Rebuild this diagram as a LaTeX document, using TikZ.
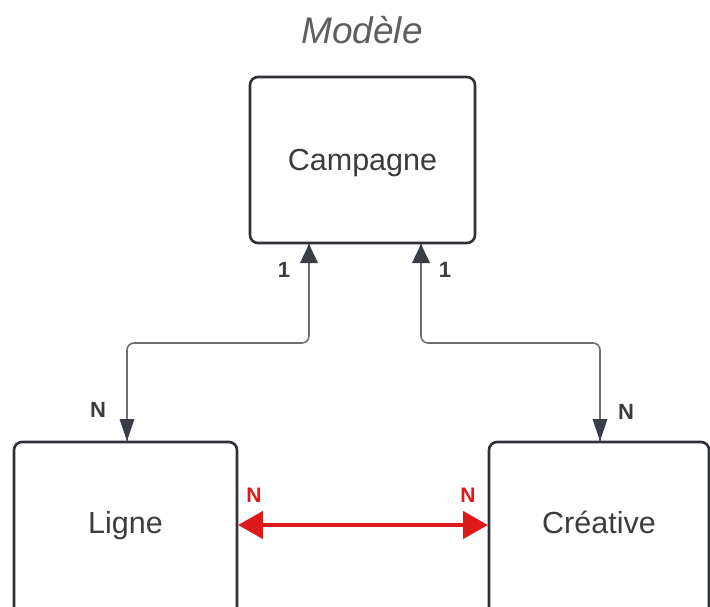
\documentclass[tikz,border=0pt]{standalone}
\usepackage{fontspec}
\setmainfont{Liberation Sans}
\usetikzlibrary{arrows.meta}
\definecolor{boxline}{HTML}{2E3138}
\definecolor{connline}{HTML}{6E6E6E}
\definecolor{headcol}{HTML}{383D47}
\definecolor{txtcol}{HTML}{3C3C3C}
\definecolor{titlecol}{HTML}{5E5E5E}
\definecolor{redcol}{HTML}{DD1A1A}
\begin{document}
\begin{tikzpicture}[x=1pt,y=-1pt,
  entity/.style={draw=boxline, line width=2.6pt, rounded corners=8pt, fill=white, inner sep=0pt, font=\fontsize{30.5}{34}\selectfont, text=txtcol},
  conn/.style={draw=connline, line width=1.6pt, rounded corners=7pt},
  card/.style={font=\bfseries\fontsize{22}{24}\selectfont, text=txtcol},
  redcard/.style={font=\bfseries\fontsize{21}{23}\selectfont, text=redcol},
  rel/.style={draw=redcol, line width=4.5pt, {Triangle[length=25pt,width=27pt]}-{Triangle[length=25pt,width=27pt]}}
]
\useasboundingbox (0,0) rectangle (710,606);
\clip (0,0) rectangle (710,606);
\node[font=\itshape\fontsize{37}{42}\selectfont, text=titlecol] (title) at (362,30) {Modèle};
% boxes
\draw[entity] (250,77) rectangle (475,243);
\node[entity, draw=none, fill=none, anchor=base] (camp) at (362.5,170) {Campagne};
\coordinate (campbl) at (309,244);
\coordinate (campbr) at (421,244);
\draw[entity] (14,442) rectangle (237,630);
\node[entity, draw=none, fill=none, anchor=base] (ligne) at (125.5,533) {Ligne};
\coordinate (lignetop) at (127,441);
\coordinate (ligneright) at (238,525);
\draw[entity] (489,442) rectangle (709,630);
\node[entity, draw=none, fill=none, anchor=base] (creat) at (599,533) {Créative};
\coordinate (creattop) at (600,441);
\coordinate (creatleft) at (488,525);
% connectors
\coordinate (lk1) at (309,343);
\coordinate (lk2) at (127,343);
\coordinate (rk1) at (421,343);
\coordinate (rk2) at (600,343);
\draw[conn] (campbl) -- (lk1) -- (lk2) -- (lignetop);
\draw[conn] (campbr) -- (rk1) -- (rk2) -- (creattop);
\path[fill=headcol] (300,263) -- (309,244) -- (318,263) -- cycle;
\path[fill=headcol] (412,263) -- (421,244) -- (430,263) -- cycle;
\path[fill=headcol] (119.5,419) -- (127,441) -- (134.5,419) -- cycle;
\path[fill=headcol] (592.5,419) -- (600,441) -- (607.5,419) -- cycle;
\draw[rel] (ligneright) -- (creatleft);
% labels
\node[card] (c1) at (284,270) {1};
\node[card] (c2) at (445,270) {1};
\node[card] (c3) at (98,410) {N};
\node[card] (c4) at (626,412) {N};
\node[redcard] (c5) at (254,495) {N};
\node[redcard] (c6) at (468,495) {N};
\end{tikzpicture}
\end{document}
